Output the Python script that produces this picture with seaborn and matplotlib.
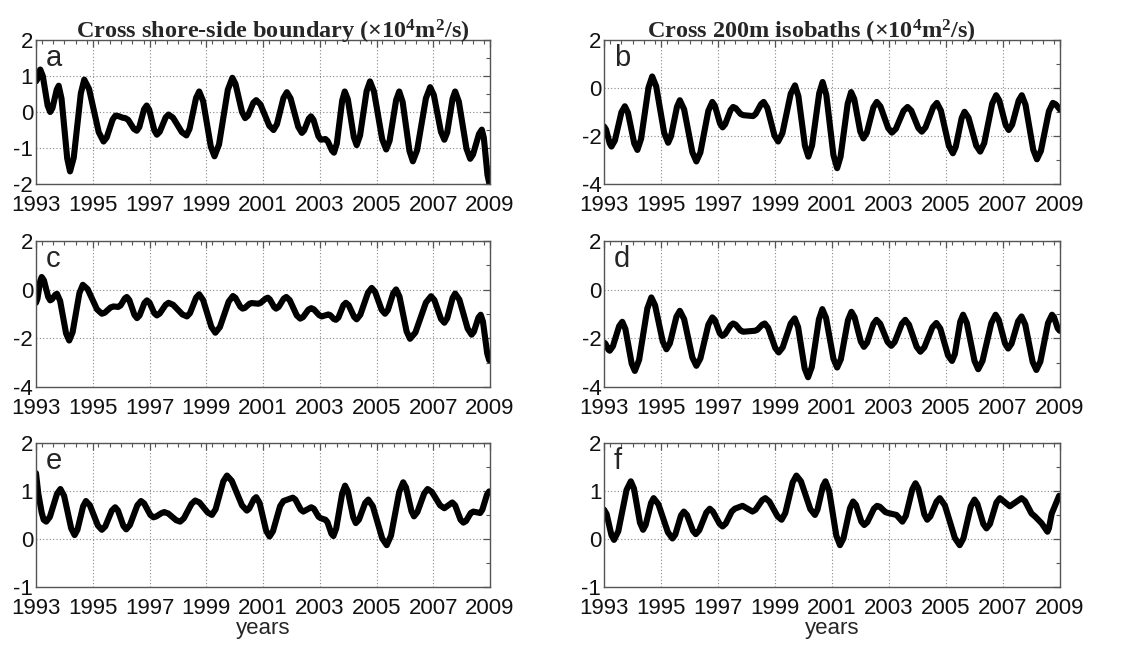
import matplotlib
matplotlib.use("Agg")
import matplotlib.pyplot as plt
from matplotlib.ticker import MultipleLocator
import seaborn as sns
import pandas as pd

# ---------------- data ----------------
t_a = [1993.0, 1993.04, 1993.11, 1993.15, 1993.24, 1993.41, 1993.5, 1993.58, 1993.73, 1993.8,
       1993.9, 1994.1, 1994.2, 1994.33, 1994.58, 1994.7, 1994.87, 1995.21, 1995.38, 1995.49,
       1995.7, 1995.8, 1995.89, 1996.06, 1996.15, 1996.25, 1996.45, 1996.55, 1996.64, 1996.81,
       1996.9, 1996.99, 1997.17, 1997.26, 1997.36, 1997.57, 1997.67, 1997.83, 1998.14, 1998.3,
       1998.41, 1998.64, 1998.75, 1998.89, 1999.16, 1999.29, 1999.45, 1999.76, 1999.92, 2000.03,
       2000.26, 2000.37, 2000.47, 2000.66, 2000.76, 2000.91, 2001.22, 2001.37, 2001.49, 2001.72,
       2001.84, 2001.97, 2002.24, 2002.37, 2002.45, 2002.61, 2002.69, 2002.78, 2002.95, 2003.04,
       2003.2, 2003.28, 2003.43, 2003.5, 2003.6, 2003.79, 2003.88, 2003.99, 2004.2, 2004.3,
       2004.42, 2004.65, 2004.77, 2004.91, 2005.2, 2005.34, 2005.46, 2005.69, 2005.8, 2005.92,
       2006.16, 2006.28, 2006.43, 2006.74, 2006.89, 2007.02, 2007.27, 2007.39, 2007.49, 2007.68,
       2007.77, 2007.9, 2008.17, 2008.3, 2008.4, 2008.61, 2008.71, 2008.78, 2008.91, 2008.97]
v_a = [0.85, 0.90, 1.13, 1.18, 1.00, 0.18, 0.0, 0.11, 0.62, 0.73,
       0.37, -1.29, -1.65, -1.27, 0.52, 0.9, 0.64, -0.56, -0.82, -0.71,
       -0.21, -0.1, -0.11, -0.16, -0.17, -0.22, -0.47, -0.52, -0.42, 0.08,
       0.18, 0.06, -0.51, -0.63, -0.55, -0.15, -0.07, -0.16, -0.56, -0.65,
       -0.47, 0.39, 0.57, 0.3, -0.96, -1.23, -0.9, 0.62, 0.95, 0.78,
       0.0, -0.17, -0.1, 0.26, 0.33, 0.21, -0.38, -0.5, -0.34, 0.39,
       0.55, 0.38, -0.41, -0.58, -0.51, -0.19, -0.12, -0.22, -0.67, -0.77,
       -0.75, -0.81, -1.07, -1.13, -0.88, 0.32, 0.57, 0.35, -0.70, -0.92,
       -0.65, 0.58, 0.85, 0.57, -0.76, -1.04, -0.8, 0.33, 0.57, 0.28,
       -1.08, -1.37, -1.06, 0.38, 0.69, 0.47, -0.55, -0.77, -0.57, 0.37,
       0.57, 0.29, -1.02, -1.3, -1.18, -0.61, -0.49, -0.71, -1.75, -1.97]

t_b = [1993.0, 1993.07, 1993.2, 1993.26, 1993.38, 1993.61, 1993.73, 1993.84, 1994.06, 1994.17,
       1994.3, 1994.56, 1994.69, 1994.83, 1995.11, 1995.25, 1995.35, 1995.56, 1995.66, 1995.81,
       1996.1, 1996.24, 1996.38, 1996.66, 1996.8, 1996.89, 1997.07, 1997.16, 1997.25, 1997.44,
       1997.53, 1997.62, 1997.79, 1997.88, 1998.23, 1998.32, 1998.51, 1998.6, 1998.73, 1998.98,
       1999.11, 1999.26, 1999.55, 1999.7, 1999.82, 2000.05, 2000.17, 2000.3, 2000.55, 2000.67,
       2000.8, 2001.05, 2001.18, 2001.3, 2001.55, 2001.67, 2001.78, 2001.99, 2002.1, 2002.22,
       2002.45, 2002.57, 2002.7, 2002.97, 2003.1, 2003.24, 2003.51, 2003.65, 2003.78, 2004.03,
       2004.15, 2004.28, 2004.55, 2004.68, 2004.82, 2005.1, 2005.24, 2005.34, 2005.55, 2005.65,
       2005.79, 2006.06, 2006.2, 2006.34, 2006.62, 2006.76, 2006.87, 2007.09, 2007.2, 2007.32,
       2007.55, 2007.66, 2007.79, 2008.06, 2008.19, 2008.33, 2008.61, 2008.75, 2008.85, 2009.0]
v_b = [-1.6, -1.73, -2.31, -2.44, -2.19, -1.01, -0.76, -1.03, -2.31, -2.58,
       -2.12, 0.02, 0.48, 0.07, -1.87, -2.28, -2.01, -0.78, -0.51, -0.89,
       -2.68, -3.06, -2.69, -0.95, -0.58, -0.74, -1.48, -1.64, -1.51, -0.92,
       -0.79, -0.84, -1.08, -1.13, -1.17, -1.08, -0.67, -0.58, -0.83, -1.98,
       -2.23, -1.88, -0.24, 0.11, -0.34, -2.41, -2.86, -2.39, -0.22, 0.25,
       -0.29, -2.8, -3.34, -2.86, -0.65, -0.17, -0.46, -1.81, -2.1, -1.87,
       -0.81, -0.58, -0.77, -1.67, -1.86, -1.7, -0.95, -0.79, -0.94, -1.67,
       -1.82, -1.64, -0.8, -0.62, -0.94, -2.41, -2.72, -2.46, -1.25, -0.99,
       -1.24, -2.4, -2.65, -2.3, -0.65, -0.3, -0.52, -1.53, -1.75, -1.53,
       -0.52, -0.3, -0.7, -2.57, -2.97, -2.62, -0.97, -0.62, -0.68, -0.9]

t_c = [1993.0, 1993.05, 1993.15, 1993.2, 1993.28, 1993.43, 1993.5, 1993.56, 1993.68, 1993.74,
       1993.85, 1994.06, 1994.17, 1994.29, 1994.53, 1994.65, 1994.82, 1995.15, 1995.32, 1995.42,
       1995.63, 1995.73, 1995.9, 1995.98, 1996.13, 1996.2, 1996.29, 1996.47, 1996.56, 1996.65,
       1996.82, 1996.91, 1997.0, 1997.17, 1997.26, 1997.36, 1997.57, 1997.67, 1997.83, 1998.16,
       1998.32, 1998.43, 1998.64, 1998.75, 1998.89, 1999.18, 1999.32, 1999.48, 1999.79, 1999.94,
       2000.03, 2000.2, 2000.28, 2000.36, 2000.52, 2000.6, 2000.84, 2000.92, 2001.09, 2001.17,
       2001.24, 2001.39, 2001.46, 2001.55, 2001.73, 2001.82, 2001.94, 2002.19, 2002.31, 2002.41,
       2002.6, 2002.7, 2002.79, 2002.98, 2003.07, 2003.3, 2003.37, 2003.5, 2003.57, 2003.66,
       2003.83, 2003.92, 2004.02, 2004.21, 2004.3, 2004.43, 2004.7, 2004.83, 2004.95, 2005.18,
       2005.3, 2005.4, 2005.59, 2005.69, 2005.81, 2006.06, 2006.18, 2006.37, 2006.74, 2006.92,
       2007.04, 2007.27, 2007.39, 2007.49, 2007.68, 2007.77, 2007.92, 2008.21, 2008.35, 2008.43,
       2008.59, 2008.67, 2008.75, 2008.9, 2008.97]
v_c = [-0.54, -0.38, 0.36, 0.52, 0.38, -0.30, -0.44, -0.4, -0.21, -0.17,
       -0.46, -1.8, -2.09, -1.75, -0.14, 0.2, 0.02, -0.81, -0.99, -0.95,
       -0.73, -0.69, -0.71, -0.65, -0.36, -0.3, -0.43, -1.04, -1.17, -1.06,
       -0.55, -0.44, -0.53, -0.97, -1.06, -0.98, -0.62, -0.54, -0.62, -1.02,
       -1.1, -0.96, -0.33, -0.19, -0.43, -1.53, -1.77, -1.54, -0.49, -0.26,
       -0.34, -0.70, -0.78, -0.75, -0.58, -0.55, -0.58, -0.54, -0.37, -0.33,
       -0.4, -0.71, -0.78, -0.71, -0.37, -0.3, -0.43, -1.06, -1.19, -1.13,
       -0.82, -0.76, -0.81, -1.05, -1.1, -1.02, -1.05, -1.21, -1.24, -1.14,
       -0.64, -0.54, -0.64, -1.12, -1.22, -1.03, -0.12, 0.07, -0.09, -0.83,
       -0.99, -0.84, -0.14, 0.01, -0.29, -1.72, -2.02, -1.76, -0.53, -0.27,
       -0.43, -1.2, -1.36, -1.18, -0.34, -0.16, -0.41, -1.6, -1.85, -1.73,
       -1.15, -1.03, -1.31, -2.62, -2.9]

t_d = [1993.0, 1993.05, 1993.15, 1993.2, 1993.31, 1993.53, 1993.64, 1993.75, 1993.97, 1994.08,
       1994.23, 1994.52, 1994.66, 1994.79, 1995.06, 1995.19, 1995.31, 1995.54, 1995.66, 1995.81,
       1996.1, 1996.24, 1996.38, 1996.66, 1996.8, 1996.89, 1997.06, 1997.15, 1997.25, 1997.44,
       1997.53, 1997.62, 1997.79, 1997.88, 1998.29, 1998.38, 1998.55, 1998.64, 1998.76, 1999.01,
       1999.13, 1999.27, 1999.55, 1999.69, 1999.81, 2000.04, 2000.16, 2000.29, 2000.54, 2000.66,
       2000.79, 2001.05, 2001.18, 2001.31, 2001.56, 2001.68, 2001.79, 2002.01, 2002.12, 2002.23,
       2002.45, 2002.56, 2002.69, 2002.95, 2003.08, 2003.2, 2003.45, 2003.57, 2003.7, 2003.97,
       2004.1, 2004.24, 2004.52, 2004.66, 2004.8, 2005.07, 2005.21, 2005.31, 2005.5, 2005.6,
       2005.73, 2006.0, 2006.13, 2006.28, 2006.59, 2006.74, 2006.85, 2007.07, 2007.18, 2007.3,
       2007.53, 2007.65, 2007.78, 2008.04, 2008.17, 2008.31, 2008.58, 2008.72, 2008.79, 2008.92,
       2008.99]
v_d = [-2.17, -2.22, -2.46, -2.51, -2.33, -1.5, -1.32, -1.62, -3.04, -3.34,
       -2.89, -0.77, -0.32, -0.64, -2.13, -2.45, -2.21, -1.11, -0.87, -1.21,
       -2.79, -3.13, -2.83, -1.44, -1.14, -1.25, -1.79, -1.9, -1.82, -1.47,
       -1.39, -1.44, -1.68, -1.73, -1.69, -1.65, -1.44, -1.39, -1.57, -2.4,
       -2.58, -2.37, -1.39, -1.18, -1.54, -3.24, -3.6, -3.18, -1.22, -0.8,
       -1.16, -2.84, -3.2, -2.86, -1.25, -0.91, -1.13, -2.13, -2.35, -2.18,
       -1.41, -1.24, -1.4, -2.15, -2.31, -2.15, -1.4, -1.24, -1.44, -2.35,
       -2.55, -2.37, -1.55, -1.37, -1.6, -2.7, -2.93, -2.65, -1.31, -1.03,
       -1.37, -2.93, -3.27, -2.93, -1.37, -1.03, -1.24, -2.21, -2.42, -2.22,
       -1.3, -1.1, -1.43, -2.97, -3.3, -2.96, -1.37, -1.03, -1.13, -1.59,
       -1.69]

t_e = [1993.0, 1993.08, 1993.2, 1993.27, 1993.36, 1993.49, 1993.74, 1993.86, 1993.99, 1994.24,
       1994.36, 1994.46, 1994.66, 1994.76, 1994.9, 1995.18, 1995.32, 1995.44, 1995.67, 1995.79,
       1995.89, 1996.08, 1996.18, 1996.31, 1996.57, 1996.7, 1996.81, 1997.03, 1997.14, 1997.24,
       1997.43, 1997.52, 1997.66, 1997.94, 1998.08, 1998.21, 1998.48, 1998.61, 1998.76, 1999.05,
       1999.2, 1999.33, 1999.6, 1999.73, 1999.9, 2000.26, 2000.43, 2000.51, 2000.68, 2000.76,
       2000.88, 2001.11, 2001.23, 2001.35, 2001.6, 2001.72, 2002.05, 2002.14, 2002.33, 2002.42,
       2002.7, 2002.79, 2002.96, 2003.04, 2003.2, 2003.27, 2003.41, 2003.48, 2003.58, 2003.79,
       2003.89, 2003.99, 2004.18, 2004.27, 2004.38, 2004.6, 2004.71, 2004.87, 2005.2, 2005.36,
       2005.51, 2005.8, 2005.94, 2006.04, 2006.23, 2006.32, 2006.44, 2006.68, 2006.8, 2006.95,
       2007.24, 2007.39, 2007.67, 2007.77, 2007.96, 2008.06, 2008.15, 2008.32, 2008.41, 2008.65,
       2008.73, 2008.89, 2008.97]
v_e = [1.37, 0.95, 0.55, 0.4, 0.36, 0.46, 0.94, 1.04, 0.9, 0.22,
       0.08, 0.19, 0.68, 0.79, 0.7, 0.28, 0.19, 0.26, 0.59, 0.66,
       0.59, 0.27, 0.2, 0.29, 0.7, 0.79, 0.74, 0.5, 0.45, 0.47,
       0.54, 0.56, 0.53, 0.39, 0.36, 0.43, 0.73, 0.8, 0.76, 0.55,
       0.5, 0.62, 1.2, 1.32, 1.21, 0.70, 0.59, 0.63, 0.83, 0.87,
       0.75, 0.17, 0.05, 0.16, 0.68, 0.79, 0.86, 0.82, 0.61, 0.57,
       0.66, 0.63, 0.46, 0.43, 0.4, 0.35, 0.11, 0.06, 0.22, 0.95,
       1.11, 0.99, 0.45, 0.33, 0.4, 0.75, 0.82, 0.68, 0.01, -0.13,
       0.07, 0.98, 1.18, 1.07, 0.58, 0.47, 0.56, 0.95, 1.04, 0.98,
       0.70, 0.64, 0.76, 0.7, 0.40, 0.34, 0.37, 0.54, 0.57, 0.54,
       0.61, 0.92, 0.99]

t_f = [1993.0, 1993.09, 1993.26, 1993.35, 1993.5, 1993.79, 1993.94, 1994.05, 1994.26, 1994.37,
       1994.46, 1994.65, 1994.74, 1994.91, 1995.24, 1995.4, 1995.5, 1995.7, 1995.8, 1995.91,
       1996.12, 1996.22, 1996.34, 1996.59, 1996.71, 1996.82, 1997.05, 1997.16, 1997.27, 1997.48,
       1997.59, 1997.86, 1998.21, 1998.32, 1998.55, 1998.66, 1998.8, 1999.09, 1999.23, 1999.36,
       1999.62, 1999.75, 1999.91, 2000.24, 2000.4, 2000.49, 2000.68, 2000.77, 2000.9, 2001.15,
       2001.28, 2001.4, 2001.63, 2001.74, 2001.84, 2002.03, 2002.13, 2002.24, 2002.47, 2002.58,
       2002.68, 2002.87, 2002.97, 2003.26, 2003.47, 2003.59, 2003.82, 2003.93, 2004.03, 2004.24,
       2004.34, 2004.45, 2004.67, 2004.78, 2004.96, 2005.31, 2005.48, 2005.61, 2005.87, 2006.0,
       2006.1, 2006.31, 2006.42, 2006.54, 2006.77, 2006.89, 2007.24, 2007.65, 2007.77, 2008.0,
       2008.12, 2008.35, 2008.56, 2008.61, 2008.71, 2008.76, 2008.97]
v_f = [0.61, 0.52, 0.08, -0.02, 0.16, 1.02, 1.2, 1.05, 0.34, 0.19,
       0.29, 0.75, 0.85, 0.72, 0.14, 0.01, 0.09, 0.49, 0.57, 0.5,
       0.17, 0.1, 0.18, 0.55, 0.63, 0.57, 0.32, 0.26, 0.32, 0.57,
       0.63, 0.69, 0.57, 0.61, 0.81, 0.85, 0.78, 0.47, 0.4, 0.54,
       1.18, 1.32, 1.2, 0.62, 0.5, 0.61, 1.1, 1.2, 1.0, 0.07,
       -0.13, 0.01, 0.64, 0.78, 0.71, 0.36, 0.29, 0.35, 0.63, 0.69,
       0.67, 0.56, 0.54, 0.5, 0.36, 0.48, 1.04, 1.16, 1.05, 0.51,
       0.4, 0.47, 0.78, 0.85, 0.7, 0.02, -0.13, 0.01, 0.68, 0.82,
       0.73, 0.31, 0.22, 0.31, 0.76, 0.85, 0.68, 0.85, 0.79, 0.53,
       0.47, 0.33, 0.15, 0.22, 0.53, 0.6, 0.9]

panel_letters = ["a", "b", "c", "d", "e", "f"]
titles = [r"Cross shore-side boundary (×10$^{4}$m$^{2}$/s)",
          r"Cross 200m isobaths (×10$^{4}$m$^{2}$/s)"]
year_ticks = [1993, 1995, 1997, 1999, 2001, 2003, 2005, 2007, 2009]
ylims = [(-2, 2), (-4, 2), (-4, 2), (-4, 2), (-1, 2), (-1, 2)]
ymajor = [1, 2, 2, 2, 1, 1]
yminor = [0.5, 1, 1, 1, 0.5, 0.5]
xlabel = "years"

series = [(t_a, v_a), (t_b, v_b), (t_c, v_c), (t_d, v_d), (t_e, v_e), (t_f, v_f)]

# ---------------- style ----------------
sns.set_style("white")
plt.rcParams["font.family"] = ["Liberation Sans", "DejaVu Sans"]
plt.rcParams["axes.unicode_minus"] = False
plt.rcParams["mathtext.fontset"] = "custom"
plt.rcParams["mathtext.rm"] = "Liberation Serif:bold"
plt.rcParams["mathtext.it"] = "Liberation Serif:bold"
plt.rcParams["mathtext.bf"] = "Liberation Serif:bold"

fig = plt.figure(figsize=(11.32, 6.45), dpi=100)

lefts = [0.0318, 0.5336]
widths = [0.4011, 0.4028]
bottoms = [0.7147, 0.400, 0.090]
heights = [0.2233, 0.2264, 0.2233]
title_x = [0.522, 0.456]

for i, (t, v) in enumerate(series):
    r, c = divmod(i, 2)
    ax = fig.add_axes([lefts[c], bottoms[r], widths[c], heights[r]])
    df = pd.DataFrame({"year": t, "value": v})
    sns.lineplot(data=df, x="year", y="value", ax=ax, color="black",
                 linewidth=4.4, solid_joinstyle="round", solid_capstyle="round")
    ax.set_xlim(1993, 2009)
    ax.set_ylim(*ylims[i])
    ax.set_xticks(year_ticks)
    ax.set_xticklabels([str(y) for y in year_ticks])
    ax.xaxis.set_minor_locator(MultipleLocator(0.4))
    ax.yaxis.set_major_locator(MultipleLocator(ymajor[i]))
    ax.yaxis.set_minor_locator(MultipleLocator(yminor[i]))
    ax.tick_params(which="both", direction="in", top=True, right=True,
                   color="#555555", labelsize=16, labelcolor="#111111")
    ax.tick_params(axis="x", pad=8)
    ax.tick_params(axis="y", pad=2)
    ax.tick_params(which="major", length=5, width=0.9)
    ax.tick_params(which="minor", length=3, width=0.8)
    ax.grid(True, which="major", linestyle=(0, (1, 2)), color="#888888", linewidth=0.8)
    for s in ax.spines.values():
        s.set_color("#555555")
        s.set_linewidth(1.0)
    ax.set_ylabel("")
    ax.set_xlabel(xlabel if r == 2 else "", fontsize=16, labelpad=-1)
    ax.text(0.022, 0.97, panel_letters[i], transform=ax.transAxes, ha="left", va="top",
            fontsize=21)
    if r == 0:
        ax.set_title(titles[c], fontsize=17.5, fontweight="bold", pad=1, x=title_x[c],
                     family=["Liberation Serif", "DejaVu Serif"])

fig.savefig("out.png", dpi=100)
